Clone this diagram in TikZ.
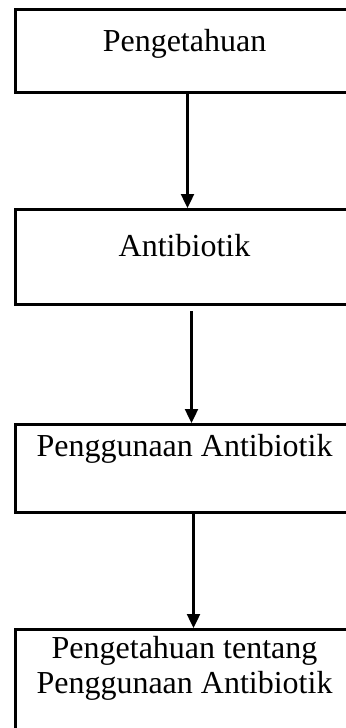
\documentclass[tikz,border=0pt]{standalone}
\usepackage{fontspec}
\setmainfont{Liberation Serif}
\usetikzlibrary{arrows.meta}

\begin{document}
\begin{tikzpicture}[x=0.5pt, y=0.5pt,
    box/.style={draw, line width=1.5pt, anchor=north west, minimum width=169pt,
      inner xsep=0pt, inner ysep=0pt, font=\fontsize{16}{17.5}\selectfont},
    arr/.style={line width=1.2pt, -{Triangle[width=6.5pt, length=7pt]}}]
  \useasboundingbox (0,0) rectangle (345,-728);
  % boxes
  \node[box, text height=21pt, text depth=20.5pt] (peng) at (14,-8) {Pengetahuan};
  \node[box, text height=23.5pt, text depth=24pt] (anti) at (14,-208) {Antibiotik};
  \node[box, text height=16pt, text depth=28pt] (guna) at (14,-423) {Penggunaan Antibiotik};
  \node[box, text height=14.5pt, text depth=50pt] (tentang) at (14,-628)
    {\begin{tabular}[t]{@{}c@{}}Pengetahuan tentang\\Penggunaan Antibiotik\end{tabular}};
  % arrows
  \draw[arr] ([xshift=1.5pt]peng.south) -- ([xshift=1.5pt]anti.north);
  \draw[arr] ([xshift=3.5pt, yshift=-2.5pt]anti.south) -- ([xshift=3.5pt]guna.north);
  \draw[arr] ([xshift=4.5pt]guna.south) -- ([xshift=4.5pt]tentang.north);
\end{tikzpicture}
\end{document}
